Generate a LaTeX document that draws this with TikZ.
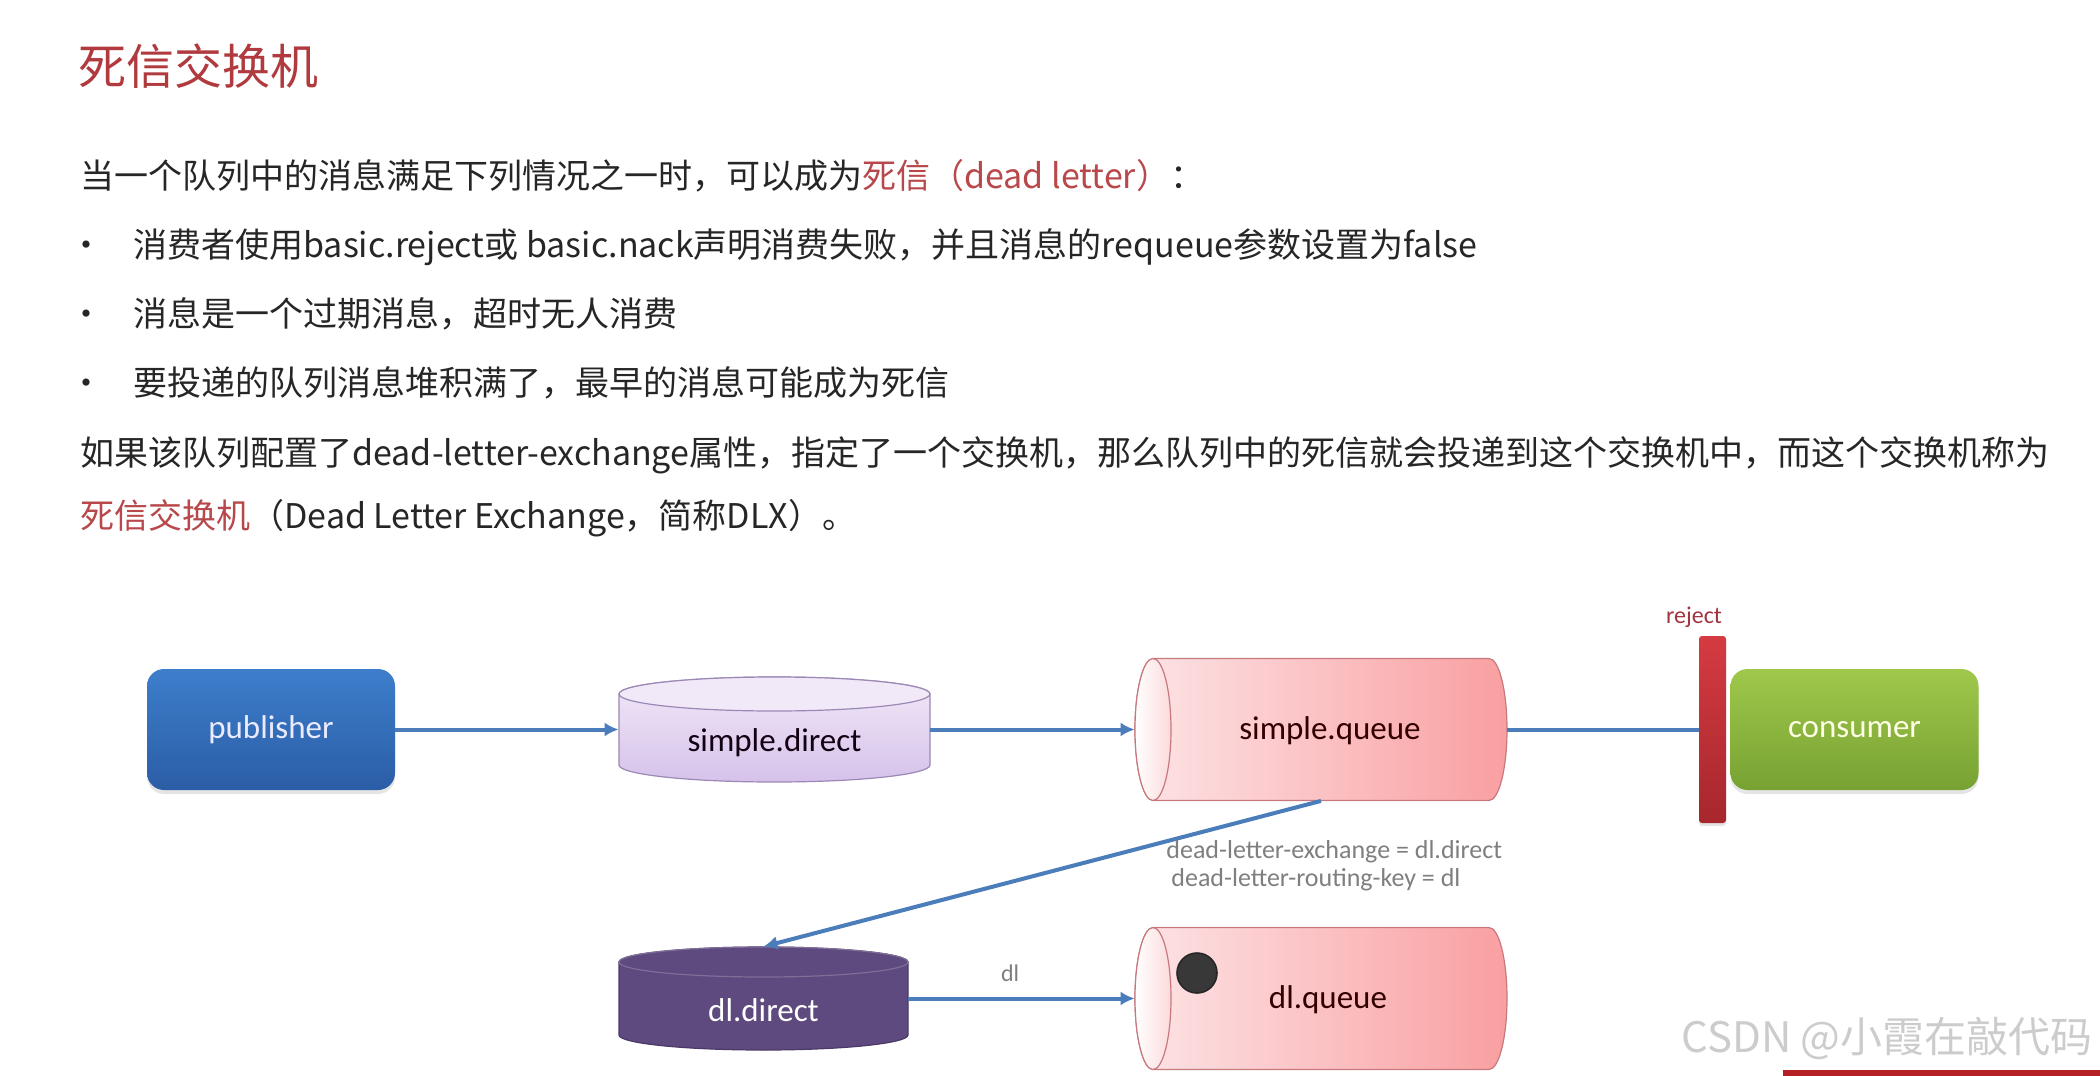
\documentclass[tikz,border=0pt]{standalone}
\usepackage{fontspec}
\setmainfont{Noto Sans CJK SC}
\newfontfamily\diag{Carlito}
\usetikzlibrary{arrows.meta,shadows}

\definecolor{titlered}{HTML}{B03A3E}
\definecolor{deadred}{HTML}{B8484B}
\definecolor{bodygray}{HTML}{262626}
\definecolor{arrowblue}{HTML}{4A7DBA}
\definecolor{pubtop}{HTML}{3D7ECB}
\definecolor{pubbot}{HTML}{2B5DA6}
\definecolor{constop}{HTML}{9FC84B}
\definecolor{consbot}{HTML}{77A232}
\definecolor{bartop}{HTML}{D53B41}
\definecolor{barbot}{HTML}{A6272D}
\definecolor{sdtop}{HTML}{F1E9F8}
\definecolor{sdbot}{HTML}{D6C2EA}
\definecolor{sdline}{HTML}{9C88B5}
\definecolor{ddfill}{HTML}{5E4A7E}
\definecolor{ddline}{HTML}{4B3A68}
\definecolor{qlight}{HTML}{FDE4E6}
\definecolor{qdark}{HTML}{F99FA1}
\definecolor{qline}{HTML}{C7797D}
\definecolor{qlid}{HTML}{FBDADC}
\definecolor{lblgray}{HTML}{7F7F7F}
\definecolor{rejred}{HTML}{A23440}
\definecolor{wmgray}{HTML}{CCCCCC}
\definecolor{footred}{HTML}{B52025}

% vertical can: x centre, y lid, y bottom, x radius, y radius, body style, lid style
\newcommand{\vcan}[7]{
    \path[#6] (#1-#4,#2) -- (#1-#4,#3)
        arc[start angle=180, end angle=0, x radius=#4, y radius=#5]
        -- (#1+#4,#2)
        arc[start angle=0, end angle=-180, x radius=#4, y radius=#5] -- cycle;
    \path[#7] (#1,#2) ellipse [x radius=#4, y radius=#5];
}
% lying can: x lid, x right, y centre, x radius, y radius, body style, lid style
\newcommand{\hcan}[7]{
    \path[#6] (#1,#3-#5) -- (#2,#3-#5)
        arc[start angle=-90, end angle=90, x radius=#4, y radius=#5]
        -- (#1,#3+#5)
        arc[start angle=90, end angle=270, x radius=#4, y radius=#5] -- cycle;
    \path[#7] (#1,#3) ellipse [x radius=#4, y radius=#5];
}

\tikzset{
    txt/.style={anchor=base west, inner sep=0pt, text=bodygray,
        font=\fontsize{17pt}{20pt}\selectfont},
    bulletdot/.style={anchor=base, inner sep=0pt, text=bodygray,
        font=\fontsize{17pt}{20pt}\selectfont},
    lbl/.style={inner sep=1pt, font=\diag\fontsize{16.5pt}{18pt}\selectfont},
    holder/.style={inner sep=0pt, draw=none},
    pubbox/.style={lbl, rounded corners=8.5pt, minimum width=124pt, minimum height=60.5pt,
        top color=pubtop, bottom color=pubbot, text=white!92!blue,
        drop shadow={opacity=0.2, shadow xshift=0pt, shadow yshift=-2pt}},
    consbox/.style={pubbox, top color=constop, bottom color=consbot, text=white!90!yellow},
    rejectbar/.style={holder, rounded corners=1.5pt, minimum width=13.5pt, minimum height=93.5pt,
        top color=bartop, bottom color=barbot,
        drop shadow={opacity=0.2, shadow xshift=0pt, shadow yshift=-1.5pt}},
    sdbody/.style={top color=sdtop, bottom color=sdbot, draw=sdline, line width=0.6pt},
    sdlid/.style={fill=sdtop, draw=sdline, line width=0.6pt},
    ddbody/.style={fill=ddfill, draw=ddline, line width=0.6pt},
    ddlid/.style={fill=ddfill, draw=ddfill!80!white, line width=0.6pt},
    qbody/.style={left color=qlight, right color=qdark, draw=qline, line width=0.6pt},
    qlid/.style={left color=white, right color=qlid, draw=qline, line width=0.6pt},
    msgdot/.style={circle, inner sep=0pt, minimum size=20pt, fill=black!78, draw=black!85, line width=0.8pt},
    flow/.style={draw=arrowblue, line width=2pt, -{Latex[length=7pt,width=7pt]}},
    link/.style={draw=arrowblue, line width=2pt}
}

\begin{document}
\begin{tikzpicture}[x=0.5pt, y=-0.5pt]
    \useasboundingbox (0,0) rectangle (2100,1076);
    \fill[white] (0,0) rectangle (2100,1076);

    % heading and text
    \node[txt, font=\fontsize{24pt}{28pt}\selectfont, text=titlered] (title) at (78,84) {死信交换机};
    \node[txt] (line1) at (80,188) {当一个队列中的消息满足下列情况之一时，可以成为\textcolor{deadred}{死信（dead letter）}：};
    \foreach \y in {257,326,395}
        \node[bulletdot] at (86,\y) {•};
    \node[txt] (item1) at (133,257) {消费者使用basic.reject或 basic.nack声明消费失败，并且消息的requeue参数设置为false};
    \node[txt] (item2) at (133,326) {消息是一个过期消息，超时无人消费};
    \node[txt] (item3) at (133,395) {要投递的队列消息堆积满了，最早的消息可能成为死信};
    \node[txt] (line5) at (80,465) {如果该队列配置了dead-letter-exchange属性，指定了一个交换机，那么队列中的死信就会投递到这个交换机中，而这个交换机称为};
    \node[txt] (line6) at (80,528) {\textcolor{deadred}{死信交换机}（Dead Letter Exchange，简称DLX）。};

    % publisher and exchanges
    \node[pubbox] (pub) at (271,729.5) {publisher};
    \vcan{774.5}{694}{765}{155.5}{17}{sdbody}{sdlid}
    \node[holder, minimum width=155.5pt, minimum height=52.5pt] (sd) at (774.5,729.5) {};
    \node[lbl, text=black!85!violet] (sdtext) at (774.5,743) {simple.direct};
    \vcan{763.5}{962}{1035}{144.5}{15}{ddbody}{ddlid}
    \node[holder, minimum width=144.5pt, minimum height=51.5pt] (dd) at (763.5,998.5) {};
    \node[lbl, text=white] (ddtext) at (763.5,1010) {dl.direct};

    % queues
    \hcan{1153}{1489}{729.5}{18}{71}{qbody}{qlid}
    \node[holder, minimum width=186pt, minimum height=71pt] (sq) at (1321,729.5) {};
    \node[lbl, text=black!80!red] (sqtext) at (1330,731) {simple.queue};
    \hcan{1153}{1489}{998.5}{18}{71}{qbody}{qlid}
    \node[holder, minimum width=186pt, minimum height=71pt] (dq) at (1321,998.5) {};
    \node[lbl, text=black!80!red] (dqtext) at (1328,1000) {dl.queue};
    \node[msgdot] (msg) at (1197,973) {};

    % consumer side
    \node[rejectbar] (bar) at (1712.5,729.5) {};
    \node[lbl, font=\diag\fontsize{12pt}{14pt}\selectfont, text=rejred] (rej) at (1694,617) {reject};
    \node[consbox] (cons) at (1854.5,729.5) {consumer};

    \draw[flow] (pub.east) -- (sd.west);
    \draw[flow] (sd.east) -- (sq.west);
    \draw[link] (sq.east) -- (bar.west);
    \draw[flow] (sq.south) -- (dd.north);
    \draw[flow] (dd.east) -- (dq.west)
        node[lbl, pos=0.45, yshift=12.5pt, font=\diag\fontsize{12pt}{14pt}\selectfont, text=lblgray] (dlkey) {dl};
    \node[lbl, anchor=west, align=left, font=\diag\fontsize{13pt}{14pt}\selectfont, text=lblgray] (dlxargs) at (1164,866)
        {dead-letter-exchange = dl.direct\\\hspace{2.5pt}dead-letter-routing-key = dl};

    % watermark
    \node[anchor=east, inner sep=0pt, text=wmgray, font=\fontsize{21pt}{24pt}\selectfont] (wm) at (2093,1038) {CSDN @小霞在敲代码};
    \fill[footred] (1783,1070) rectangle (2100,1076);
\end{tikzpicture}
\end{document}
